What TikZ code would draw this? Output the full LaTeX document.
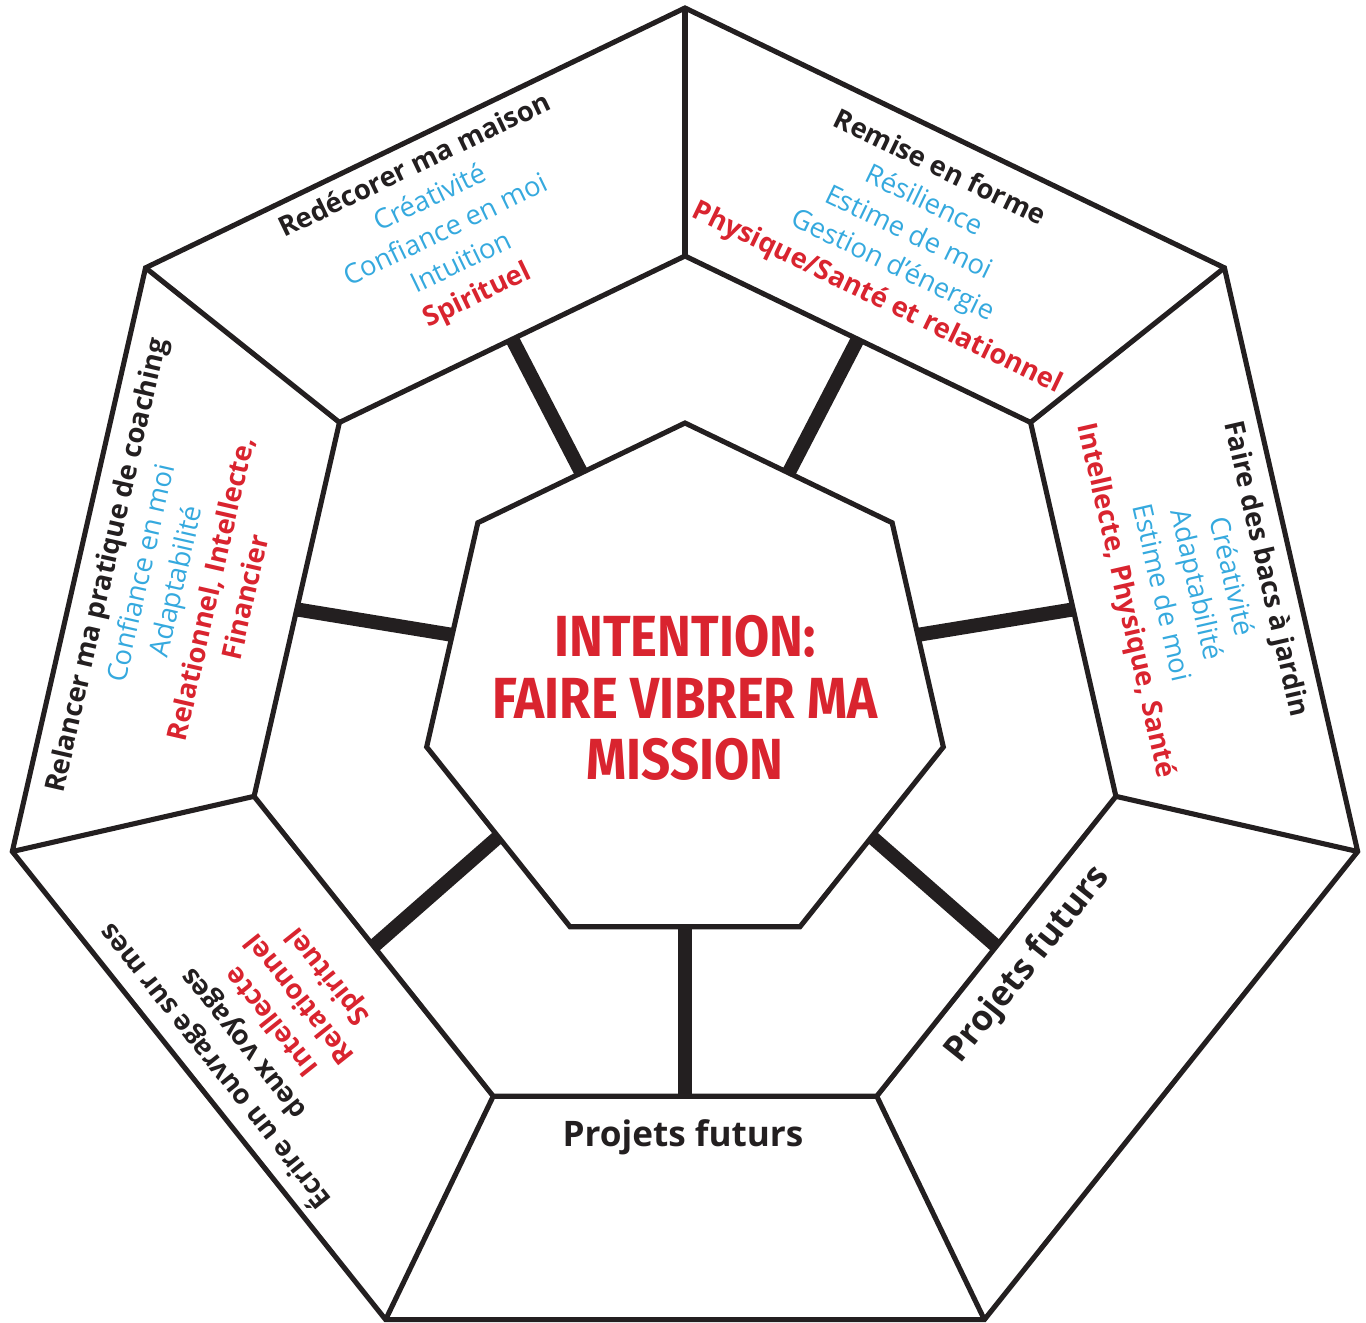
\documentclass[tikz,border=0pt]{standalone}
\usepackage{fontspec}
\setmainfont{Open Sans}
\newfontfamily\intentionfont{Fira Sans}[FakeStretch=0.88]
\usepackage{tikz}
\usetikzlibrary{shapes.geometric}
\definecolor{ink}{HTML}{231F20}
\definecolor{qualite}{HTML}{35A9DE}
\definecolor{sphere}{HTML}{D9242F}
\newcommand{\proj}[1]{\textbf{\color{ink}#1}}
\newcommand{\qual}[1]{{\color{qualite}#1}}
\newcommand{\sphr}[1]{\textbf{\color{sphere}#1}}

\begin{document}
\begin{tikzpicture}[
  heptagon/.style={regular polygon,regular polygon sides=7,draw=ink,line width=1.45pt,inner sep=0pt,outer sep=0pt},
  rim/.style={draw=ink,line width=1.45pt},
  spoke/.style={draw=ink,line width=4pt},
  block/.style={align=center,inner sep=0pt,font=\fontsize{7.8}{10.2}\selectfont},
  futur/.style={inner sep=0pt,text=ink,font=\fontsize{10}{12}\selectfont\bfseries}]
\useasboundingbox (-6.85,-6.24) rectangle (6.81,6.98);
\node[heptagon,minimum size=13.8cm] (outer) at (0,0) {};
\node[heptagon,minimum size=8.84cm] (ring) at (0,0) {};
\node[heptagon,minimum size=5.3cm] (core) at (0,0.10) {};
\foreach \k in {1,...,7} {
  \draw[rim] (outer.corner \k) -- (ring.corner \k);
  \draw[spoke] (core.side \k) -- (ring.side \k);
}
\node[text=sphere,align=center,font=\intentionfont\bfseries\fontsize{16.5}{17.6}\selectfont] (intention) at (0,0) {INTENTION:\\FAIRE VIBRER MA\\MISSION};
% les sept zones
\node[block,rotate=180/7] (maison) at (-2.385,4.665) {\proj{Redécorer ma maison}\\ \qual{Créativité}\\ \qual{Confiance en moi}\\ \qual{Intuition}\\ \sphr{Spirituel}};
\node[block,rotate=-180/7] (forme) at (2.23,4.64) {\proj{Remise en forme}\\ \qual{Résilience}\\ \qual{Estime de moi}\\ \qual{Gestion d’énergie}\\ \sphr{Physique/Santé et relationnel}};
\node[block,rotate=-540/7] (jardin) at (5.10,1.13) {\proj{Faire des bacs à jardin}\\ \qual{Créativité}\\ \qual{Adaptabilité}\\ \qual{Estime de moi}\\ \sphr{Intellecte, Physique, Santé}};
\node[block,rotate=540/7] (coaching) at (-5.10,1.17) {\proj{Relancer ma pratique de coaching}\\ \qual{Confiance en moi}\\ \qual{Adaptabilité}\\ \sphr{Relationnel, Intellecte,}\\ \sphr{Financier}};
\node[block,rotate=900/7] (voyage) at (-4.14,-3.24) {\proj{Écrire un ouvrage sur mes}\\ \proj{deux voyages}\\ \sphr{Intellecte}\\ \sphr{Relationnel}\\ \sphr{Spirituel}};
\node[futur,rotate=360/7] (futurdroite) at (3.43,-2.67) {Projets futurs};
\node[futur] (futurbas) at (-0.02,-4.39) {Projets futurs};
\end{tikzpicture}
\end{document}
